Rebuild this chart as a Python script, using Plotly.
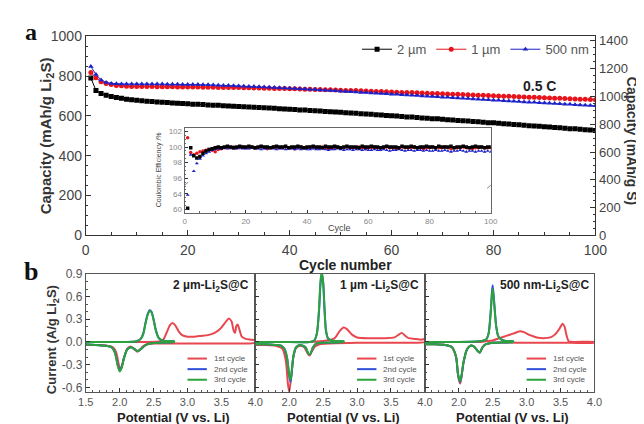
import plotly.graph_objects as go

W, H = 644, 424

# ---------------- Panel a data ----------------
cycles = list(range(1, 101))
cap_2um = [790, 728, 712, 703, 697, 692, 688, 684, 681, 678,
           676, 674, 672, 670, 668, 667, 665, 664, 662, 661,
           659, 658, 657, 655, 654, 653, 651, 650, 649, 647,
           646, 645, 643, 642, 641, 639, 638, 636, 635, 633,
           632, 630, 629, 627, 626, 624, 622, 621, 619, 618,
           616, 614, 613, 611, 609, 608, 606, 604, 602, 601,
           599, 597, 595, 594, 592, 590, 588, 586, 585, 583,
           581, 579, 577, 576, 574, 572, 570, 568, 566, 565,
           563, 561, 559, 557, 555, 553, 551, 549, 548, 546,
           544, 542, 540, 538, 536, 535, 533, 531, 529, 527]
cap_1um = [818, 792, 772, 762, 757, 753, 751, 749, 748, 748,
           747, 747, 747, 746, 746, 746, 746, 745, 745, 745,
           745, 745, 744, 744, 744, 743, 743, 743, 742, 742,
           741, 741, 740, 740, 739, 739, 738, 738, 737, 736,
           736, 735, 734, 734, 733, 732, 731, 731, 730, 729,
           728, 727, 727, 726, 725, 724, 723, 722, 721, 720,
           719, 718, 718, 717, 716, 715, 714, 713, 712, 711,
           710, 709, 708, 707, 706, 705, 704, 703, 702, 701,
           700, 699, 698, 697, 696, 695, 694, 693, 692, 691,
           690, 689, 688, 687, 686, 685, 684, 683, 682, 681]
cap_500nm = [848, 808, 780, 768, 763, 761, 760, 760, 760, 760,
             760, 760, 760, 760, 760, 759, 759, 759, 758, 758,
             757, 757, 756, 756, 755, 754, 753, 752, 751, 750,
             749, 748, 747, 746, 745, 744, 742, 741, 740, 739,
             737, 736, 735, 733, 732, 730, 729, 727, 726, 724,
             723, 721, 720, 718, 717, 715, 714, 712, 711, 709,
             708, 706, 705, 703, 702, 700, 699, 697, 696, 694,
             693, 691, 690, 688, 687, 685, 684, 682, 681, 679,
             678, 676, 675, 673, 672, 670, 669, 668, 666, 665,
             664, 662, 661, 659, 658, 656, 655, 654, 652, 651]

ce_2um = [60.3, 99.9, 98.9, 98.6, 98.8, 99.2, 99.5, 99.7, 99.8, 99.9,
          100.0, 99.9, 100.0, 100.1, 100.0, 99.9, 100.0, 100.1, 100.0, 100.0,
          100.1, 100.0, 99.9, 100.0, 100.1, 100.0, 100.0, 99.9, 100.0, 100.1,
          100.0, 100.0, 100.1, 99.9, 100.0, 100.0, 100.1, 100.0, 99.9, 100.0,
          100.0, 100.1, 100.0, 100.0, 99.9, 100.1, 100.0, 100.0, 100.1, 100.0,
          99.9, 100.0, 100.1, 100.0, 100.0, 100.0, 99.9, 100.1, 100.0, 100.0,
          100.1, 100.0, 100.0, 99.9, 100.0, 100.1, 100.0, 100.0, 100.0, 99.9,
          100.1, 100.0, 100.0, 100.1, 100.0, 99.9, 100.0, 100.0, 100.1, 100.0,
          100.0, 99.9, 100.1, 100.0, 100.0, 100.0, 100.1, 99.9, 100.0, 100.0,
          100.1, 100.0, 99.9, 100.0, 100.1, 100.0, 100.0, 99.9, 100.0, 100.0]
ce_1um = [101.2, 99.3, 99.0, 99.2, 99.4, 99.5, 99.6, 99.7, 99.6, 99.4,
          99.7, 99.8, 99.9, 99.9, 99.9, 100.0, 99.9, 99.9, 100.0, 99.9,
          99.9, 100.0, 99.9, 99.9, 100.0, 99.9, 99.8, 99.9, 100.0, 99.9,
          99.9, 99.9, 100.0, 99.9, 99.9, 99.8, 99.9, 100.0, 99.9, 99.9,
          100.0, 99.9, 99.9, 99.9, 100.0, 99.9, 99.8, 99.9, 99.9, 100.0,
          99.9, 99.9, 100.0, 99.9, 99.9, 99.9, 100.0, 99.9, 99.8, 99.9,
          99.9, 100.0, 99.9, 99.9, 99.9, 100.0, 99.9, 99.9, 99.8, 99.9,
          100.0, 99.9, 99.9, 99.9, 100.0, 99.9, 99.9, 99.8, 99.9, 99.9,
          100.0, 99.9, 99.9, 99.9, 100.0, 99.9, 99.8, 99.9, 99.9, 99.9,
          100.0, 99.9, 99.9, 99.8, 99.9, 99.9, 100.0, 99.9, 99.9, 99.9]
ce_500nm = [63.7, 99.0, 96.9, 97.9, 98.5, 98.9, 99.2, 99.4, 99.6, 99.7,
            99.8, 99.8, 99.9, 99.8, 99.9, 99.8, 99.8, 99.9, 99.8, 99.8,
            99.8, 99.9, 99.8, 99.8, 99.7, 99.8, 99.8, 99.9, 99.8, 99.7,
            99.8, 99.8, 99.7, 99.8, 99.8, 99.7, 99.8, 99.7, 99.8, 99.7,
            99.7, 99.8, 99.7, 99.7, 99.8, 99.7, 99.6, 99.7, 99.7, 99.8,
            99.7, 99.6, 99.7, 99.7, 99.6, 99.7, 99.7, 99.6, 99.7, 99.6,
            99.6, 99.7, 99.6, 99.6, 99.7, 99.6, 99.5, 99.6, 99.6, 99.7,
            99.6, 99.5, 99.6, 99.6, 99.5, 99.6, 99.6, 99.5, 99.6, 99.5,
            99.5, 99.6, 99.5, 99.5, 99.6, 99.5, 99.4, 99.5, 99.5, 99.6,
            99.5, 99.4, 99.5, 99.5, 99.4, 99.5, 99.5, 99.4, 99.5, 99.4]

# broken inset axis: upper segment linear, lower segment (60-65 %) compressed below the break
ce_ticks = [60, 64, 96, 98, 100, 102]


def ce_axis(v):
    return v if v > 80 else 94 + (v - 64) * 0.5


LI2S_TO_S = 45.95 / 32.06

# ---------------- Panel b data (CV) ----------------
v_2um_1 = [1.50, 1.80, 2.10, 2.40, 2.60, 2.65, 2.70, 2.74, 2.78, 2.82, 2.87, 2.92, 3.00, 3.10, 3.20, 3.30,
           3.40, 3.48, 3.55, 3.61, 3.65, 3.68, 3.70, 3.72, 3.74, 3.77, 3.80, 3.86, 3.93, 4.00,
           4.00, 3.90, 3.60, 3.30, 3.00, 2.70, 2.50, 2.40, 2.34, 2.30, 2.26, 2.22, 2.16, 2.11, 2.06,
           2.02, 1.99, 1.95, 1.90, 1.82, 1.70, 1.50]
i_2um_1 = [0.00, 0.00, 0.00, 0.00, 0.01, 0.04, 0.14, 0.22, 0.25, 0.22, 0.14, 0.09, 0.07, 0.07, 0.08, 0.09,
           0.12, 0.17, 0.25, 0.31, 0.27, 0.15, 0.12, 0.21, 0.23, 0.15, 0.07, 0.04, 0.03, 0.02,
           -0.01, -0.02, -0.02, -0.02, -0.02, -0.02, -0.02, -0.03, -0.06, -0.10, -0.13, -0.10, -0.06, -0.09, -0.22,
           -0.36, -0.31, -0.14, -0.07, -0.05, -0.04, -0.04]
v_2um_23 = [1.50, 1.80, 2.10, 2.25, 2.31, 2.35, 2.38, 2.41, 2.44, 2.47, 2.50, 2.53, 2.57, 2.62, 2.70, 2.80,
            2.80, 2.60, 2.45, 2.37, 2.32, 2.27, 2.23, 2.17, 2.11, 2.06, 2.03, 2.00, 1.97, 1.93, 1.88, 1.80, 1.65, 1.50]
i_2um_2 = [0.00, 0.00, 0.00, 0.01, 0.04, 0.12, 0.25, 0.36, 0.42, 0.40, 0.30, 0.17, 0.06, 0.02, 0.01, 0.01,
           0.00, -0.01, -0.02, -0.05, -0.09, -0.12, -0.10, -0.07, -0.10, -0.22, -0.33, -0.38, -0.30, -0.14, -0.07, -0.05, -0.04, -0.03]
i_2um_3 = [0.00, 0.00, 0.00, 0.01, 0.04, 0.11, 0.24, 0.35, 0.41, 0.39, 0.29, 0.16, 0.06, 0.02, 0.01, 0.01,
           0.00, -0.01, -0.02, -0.05, -0.09, -0.12, -0.10, -0.07, -0.10, -0.23, -0.34, -0.39, -0.31, -0.14, -0.07, -0.05, -0.04, -0.03]

v_1um_1 = [1.50, 1.90, 2.30, 2.45, 2.55, 2.62, 2.68, 2.74, 2.80, 2.85, 2.92, 3.00, 3.20, 3.40, 3.55, 3.62,
           3.66, 3.70, 3.76, 3.85, 3.95, 4.00,
           4.00, 3.80, 3.40, 3.00, 2.60, 2.45, 2.38, 2.33, 2.30, 2.27, 2.22, 2.16, 2.10, 2.06, 2.03, 2.00,
           1.98, 1.95, 1.90, 1.80, 1.65, 1.50]
i_1um_1 = [0.00, 0.00, 0.00, 0.01, 0.02, 0.03, 0.06, 0.14, 0.19, 0.17, 0.10, 0.06, 0.05, 0.05, 0.06, 0.10,
           0.12, 0.09, 0.05, 0.04, 0.03, 0.04,
           0.00, -0.01, -0.01, -0.01, -0.02, -0.03, -0.06, -0.13, -0.18, -0.15, -0.07, -0.05, -0.08, -0.20, -0.45, -0.66,
           -0.55, -0.25, -0.09, -0.05, -0.04, -0.04]
v_1um_23 = [1.50, 1.90, 2.30, 2.37, 2.41, 2.44, 2.46, 2.48, 2.50, 2.52, 2.54, 2.57, 2.62, 2.70, 2.80,
            2.80, 2.50, 2.40, 2.35, 2.31, 2.28, 2.24, 2.16, 2.10, 2.06, 2.04, 2.02, 2.00, 1.97, 1.93, 1.88, 1.80, 1.65, 1.50]
i_1um_2 = [0.00, 0.00, 0.00, 0.02, 0.12, 0.42, 0.75, 0.90, 0.80, 0.45, 0.17, 0.05, 0.02, 0.01, 0.01,
           0.00, -0.01, -0.02, -0.07, -0.16, -0.15, -0.07, -0.04, -0.07, -0.20, -0.38, -0.53, -0.45, -0.22, -0.09, -0.05, -0.04, -0.03, -0.03]
i_1um_3 = [0.00, 0.00, 0.00, 0.02, 0.13, 0.45, 0.80, 0.93, 0.78, 0.42, 0.15, 0.05, 0.02, 0.01, 0.01,
           0.00, -0.01, -0.02, -0.07, -0.16, -0.15, -0.07, -0.04, -0.07, -0.19, -0.36, -0.50, -0.44, -0.22, -0.09, -0.05, -0.04, -0.03, -0.03]

v_500nm_1 = [1.50, 1.90, 2.30, 2.40, 2.50, 2.60, 2.70, 2.80, 2.90, 2.96, 3.05, 3.15, 3.25, 3.35, 3.42, 3.48,
             3.53, 3.56, 3.59, 3.62, 3.70, 4.00,
             4.00, 3.50, 3.00, 2.50, 2.40, 2.35, 2.31, 2.28, 2.22, 2.17, 2.12, 2.07, 2.04, 2.02, 1.99, 1.96,
             1.90, 1.80, 1.65, 1.50]
i_500nm_1 = [0.00, 0.00, 0.00, 0.01, 0.02, 0.05, 0.08, 0.11, 0.14, 0.13, 0.09, 0.06, 0.05, 0.06, 0.10, 0.17,
             0.24, 0.20, 0.08, 0.01, 0.00, 0.00,
             -0.01, -0.01, -0.01, -0.01, -0.03, -0.07, -0.14, -0.12, -0.06, -0.05, -0.10, -0.27, -0.46, -0.55, -0.45, -0.20,
             -0.07, -0.04, -0.03, -0.03]
v_500nm_23 = [1.50, 1.90, 2.30, 2.40, 2.44, 2.47, 2.49, 2.50, 2.52, 2.55, 2.58, 2.63, 2.70, 2.80,
              2.80, 2.50, 2.40, 2.35, 2.31, 2.28, 2.22, 2.17, 2.12, 2.07, 2.04, 2.02, 1.99, 1.96, 1.90, 1.80, 1.65, 1.50]
i_500nm_2 = [0.00, 0.00, 0.01, 0.03, 0.12, 0.40, 0.68, 0.75, 0.55, 0.22, 0.08, 0.03, 0.01, 0.01,
             0.00, -0.01, -0.03, -0.07, -0.14, -0.12, -0.06, -0.05, -0.10, -0.27, -0.45, -0.53, -0.44, -0.20, -0.07, -0.04, -0.03, -0.03]
i_500nm_3 = [0.00, 0.00, 0.01, 0.03, 0.11, 0.38, 0.64, 0.70, 0.52, 0.21, 0.08, 0.03, 0.01, 0.01,
             0.00, -0.01, -0.03, -0.07, -0.14, -0.12, -0.06, -0.05, -0.10, -0.26, -0.44, -0.52, -0.43, -0.20, -0.07, -0.04, -0.03, -0.03]

cv_panels = [
    ("2 µm-Li<sub>2</sub>S@C", [(v_2um_1, i_2um_1), (v_2um_23, i_2um_2), (v_2um_23, i_2um_3)]),
    ("1 µm -Li<sub>2</sub>S@C", [(v_1um_1, i_1um_1), (v_1um_23, i_1um_2), (v_1um_23, i_1um_3)]),
    ("500 nm-Li<sub>2</sub>S@C", [(v_500nm_1, i_500nm_1), (v_500nm_23, i_500nm_2), (v_500nm_23, i_500nm_3)]),
]
cycle_names = ["1st cycle", "2nd cycle", "3rd cycle"]
cv_colors = ["#e8474f", "#2f4fd8", "#2aa33a"]

series_a = [("2 µm", cap_2um, ce_2um, "black", "square"),
            ("1 µm", cap_1um, ce_1um, "#e8141c", "circle"),
            ("500 nm", cap_500nm, ce_500nm, "#1c22c8", "triangle-up")]

FONT = "Liberation Sans, Arial, sans-serif"


def px(x):
    return x / W


def py(y):
    return 1 - y / H


fig = go.Figure()

# main capacity traces
for name, cap, ce, col, sym in series_a:
    fig.add_trace(go.Scatter(x=cycles, y=cap, name=name, mode="lines+markers",
                             line=dict(color=col, width=1),
                             marker=dict(symbol=sym, size=5, color=col),
                             xaxis="x", yaxis="y", legend="legend"))
# right axis companion (S-based capacity scale)
fig.add_trace(go.Scatter(x=[], y=[], xaxis="x", yaxis="y2", showlegend=False, hoverinfo="skip"))

# inset CE traces (drawn red, blue, black)
for idx in [1, 2, 0]:
    name, cap, ce, col, sym = series_a[idx]
    fig.add_trace(go.Scatter(x=cycles, y=[ce_axis(v) for v in ce], mode="markers",
                             marker=dict(symbol=sym, size=3.5, color=col),
                             xaxis="x3", yaxis="y3", showlegend=False))

# CV traces
for p, (label, curves) in enumerate(cv_panels):
    xa, ya = f"x{4 + p}", f"y{4 + p}"
    for k, (vv, ii) in enumerate(curves):
        fig.add_trace(go.Scatter(x=vv, y=ii, mode="lines", name=cycle_names[k],
                                 line=dict(color=cv_colors[k], width=2, shape="spline", smoothing=0.6),
                                 xaxis=xa, yaxis=ya, showlegend=False))

base_ax = dict(showgrid=False, zeroline=False, showline=True, linecolor="#333", linewidth=1,
               ticks="inside", tickcolor="#333", tickfont=dict(family=FONT, color="#444"))

layout = dict(
    width=W, height=H, margin=dict(l=0, r=0, t=0, b=0),
    paper_bgcolor="white", plot_bgcolor="white",
    font=dict(family=FONT, color="#222"),
    showlegend=True,
    legend=dict(x=px(352), y=py(19), xanchor="left", yanchor="top", orientation="h",
                font=dict(size=13, color="#555", family=FONT), bgcolor="rgba(0,0,0,0)",
                itemwidth=30, traceorder="normal"),
)

layout["xaxis"] = dict(base_ax, domain=[px(72), px(598)], range=[0, 100], anchor="y",
                       tickvals=[0, 20, 40, 60, 80, 100], ticklen=5, mirror=True, ticklabelstandoff=2,
                       minor=dict(dtick=5, ticklen=3, ticks="inside", tickcolor="#333"),
                       tickfont=dict(family=FONT, color="#444", size=14))
layout["yaxis"] = dict(base_ax, domain=[py(228), py(21)], range=[0, 1000], anchor="x",
                       tickvals=[0, 200, 400, 600, 800, 1000], ticklen=5,
                       minor=dict(dtick=50, ticklen=2, ticks="inside", tickcolor="#333"),
                       tickfont=dict(family=FONT, color="#444", size=14))
layout["yaxis2"] = dict(base_ax, overlaying="y", side="right", anchor="x",
                        range=[0, 1000 * LI2S_TO_S], tickvals=[0, 200, 400, 600, 800, 1000, 1200, 1400],
                        ticklen=5, minor=dict(dtick=50, ticklen=2, ticks="inside", tickcolor="#333"),
                        tickfont=dict(family=FONT, color="#444", size=13))

layout["xaxis3"] = dict(base_ax, domain=[px(174), px(490)], range=[0, 100], anchor="y3",
                        tickvals=[0, 20, 40, 60, 80, 100], ticklen=3, mirror=True, linecolor="#666",
                        minor=dict(dtick=5, ticklen=2, ticks="inside", tickcolor="#666"),
                        tickfont=dict(family=FONT, color="#888", size=8))
layout["yaxis3"] = dict(base_ax, domain=[py(205), py(116)], range=[91.5, 102.5], anchor="x3",
                        tickvals=[ce_axis(v) for v in ce_ticks], ticktext=[str(v) for v in ce_ticks],
                        ticklen=3, mirror=True, linecolor="#666",
                        minor=dict(dtick=0.5, ticklen=1.5, ticks="inside", tickcolor="#666"),
                        tickfont=dict(family=FONT, color="#888", size=8))

xdoms = [(72, 247), (247, 422), (422, 597)]
for p in range(3):
    n = 4 + p
    tv = [1.5, 2.0, 2.5, 3.0, 3.5, 4.0] if p == 0 else [2.0, 2.5, 3.0, 3.5, 4.0]
    layout[f"xaxis{n}"] = dict(base_ax, domain=[px(xdoms[p][0]), px(xdoms[p][1])], range=[1.5, 4.0],
                               anchor=f"y{n}", tickvals=tv, ticktext=[f"{t:.1f}" for t in tv],
                               ticklen=4, mirror=True, linecolor="#555",
                               minor=dict(dtick=0.1, ticklen=2, ticks="inside", tickcolor="#555"),
                               tickfont=dict(family=FONT, color="#555", size=11))
    yv = [-0.6, -0.3, 0.0, 0.3, 0.6, 0.9]
    layout[f"yaxis{n}"] = dict(base_ax, domain=[py(391), py(268)], range=[-0.665, 0.9],
                               anchor=f"x{n}", tickvals=yv, ticktext=[f"{t:.1f}" for t in yv],
                               showticklabels=(p == 0), ticklen=4, mirror=True, linecolor="#555",
                               minor=dict(dtick=0.1, ticklen=2, ticks="inside", tickcolor="#555"),
                               tickfont=dict(family=FONT, color="#555", size=12))

annotations = []


def ann(text, x, y, size, bold=True, angle=0, color="#111", xanchor="center", family=FONT):
    annotations.append(dict(text=f"<b>{text}</b>" if bold else text, x=px(x), y=py(y),
                            xref="paper", yref="paper", showarrow=False, textangle=angle,
                            xanchor=xanchor, yanchor="middle",
                            font=dict(family=family, size=size, color=color)))


ann("a", 15, 17, 24, family="Liberation Serif, Times New Roman, serif")
ann("b", 15, 265, 26, family="Liberation Serif, Times New Roman, serif")
ann("Capacity (mAh/g Li<sub>2</sub>S)", 31, 125, 15, angle=-90, color="#333")
ann("Capacity (mAh/g S)", 636, 130, 14, angle=90, color="#333")
ann("Cycle number", 340, 259, 14, color="#222")
ann("0.5 C", 540, 73, 14, color="#222")
ann("Coulombic Efficiency /%", 148, 160, 7, bold=False, angle=-90, color="#444")
ann("Cycle", 334, 220, 9, bold=False, color="#444")
ann("Current (A/g Li<sub>2</sub>S)", 38, 336, 13, angle=-90, color="#333")
for p, (label, curves) in enumerate(cv_panels):
    x0, x1 = xdoms[p]
    ann("Potential (V vs. Li)", (x0 + x1) / 2 + 3, 417, 13, color="#222")
    ann(label, x1 - 4, 281, 12, color="#222", xanchor="right")

# legends of the CV panels (line sample + label)
shapes = []
leg_x = [(177, 197, 202), (352, 372, 377), (527, 547, 552)]
rows = [356, 367, 378]
for p in range(3):
    lx0, lx1, tx = leg_x[p]
    for k in range(3):
        shapes.append(dict(type="line", xref="paper", yref="paper", x0=px(lx0), x1=px(lx1),
                           y0=py(rows[k]), y1=py(rows[k]), line=dict(color=cv_colors[k], width=2)))
        ann(cycle_names[k], tx, rows[k], 8, bold=False, color="#555", xanchor="left")

# axis-break marks on the inset
for xb in [0, 100]:
    shapes.append(dict(type="line", xref="x3", yref="y3", x0=xb - 1.2, x1=xb + 1.2, y0=94.7, y1=95.5,
                       line=dict(color="#888", width=1)))

layout["annotations"] = annotations
layout["shapes"] = shapes
fig.update_layout(**layout)

fig.write_html("out.html")
